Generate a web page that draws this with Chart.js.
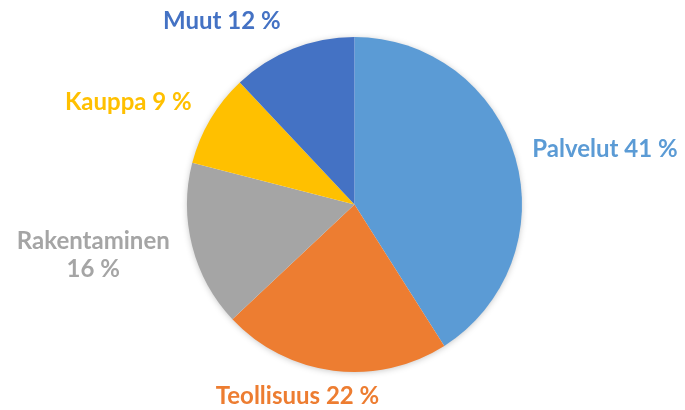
<!DOCTYPE html>
<html>
<head>
<meta charset="utf-8">
<script src="https://cdn.jsdelivr.net/npm/chart.js@4"></script>
<style>
html,body{margin:0;padding:0;background:#fff;}
#wrap{width:685px;height:410px;position:relative;}
</style>
</head>
<body>
<div id="wrap"><canvas id="c" width="685" height="410"></canvas></div>
<script>
const categories = ["Palvelut", "Teollisuus", "Rakentaminen", "Kauppa", "Muut"];
const shares = [41, 22, 16, 9, 12];
const colors = ["#5B9BD5", "#ED7D31", "#A5A5A5", "#FFC000", "#4472C4"];

// label placement relative to slice's outer mid-point (style, not data)
const labelStyle = [
  {dx: 17, dy: -9, align: "left", lines: 1},
  {dx: -36, dy: 26, align: "center", lines: 1},
  {dx: -99, dy: -5, align: "center", lines: 2},
  {dx: -82, dy: -17, align: "center", lines: 1},
  {dx: -71, dy: -27, align: "center", lines: 1}
];

const shadowPlugin = {
  id: "shadow",
  beforeDatasetsDraw(chart) {
    const arc = chart.getDatasetMeta(0).data[0];
    if (!arc) return;
    const ctx = chart.ctx;
    ctx.save();
    ctx.shadowColor = "rgba(0,0,0,0.28)";
    ctx.shadowBlur = 7;
    ctx.shadowOffsetX = 0;
    ctx.shadowOffsetY = 1;
    ctx.fillStyle = "#ffffff";
    ctx.beginPath();
    ctx.arc(arc.x, arc.y, arc.outerRadius - 1, 0, Math.PI * 2);
    ctx.fill();
    ctx.restore();
  }
};

const labelPlugin = {
  id: "outLabels",
  afterDatasetsDraw(chart) {
    const ctx = chart.ctx;
    const meta = chart.getDatasetMeta(0);
    ctx.save();
    ctx.font = "bold 24px Lato, 'Open Sans', sans-serif";
    ctx.textBaseline = "middle";
    meta.data.forEach((arc, i) => {
      const mid = (arc.startAngle + arc.endAngle) / 2;
      const ex = arc.x + Math.cos(mid) * arc.outerRadius;
      const ey = arc.y + Math.sin(mid) * arc.outerRadius;
      const st = labelStyle[i];
      const txt = categories[i];
      const pct = shares[i] + " %";
      ctx.fillStyle = colors[i];
      ctx.textAlign = st.align;
      if (st.lines === 2) {
        ctx.fillText(txt, ex + st.dx, ey + st.dy);
        ctx.fillText(pct, ex + st.dx, ey + st.dy + 28);
      } else {
        ctx.fillText(txt + " " + pct, ex + st.dx, ey + st.dy);
      }
    });
    ctx.restore();
  }
};

new Chart(document.getElementById("c"), {
  type: "pie",
  data: {
    labels: categories,
    datasets: [{
      data: shares,
      backgroundColor: colors,
      borderWidth: 0
    }]
  },
  options: {
    responsive: false,
    animation: false,
    layout: {padding: {left: 187, right: 163, top: 37, bottom: 38}},
    plugins: {legend: {display: false}, tooltip: {enabled: false}}
  },
  plugins: [shadowPlugin, labelPlugin]
});
</script>
</body>
</html>
